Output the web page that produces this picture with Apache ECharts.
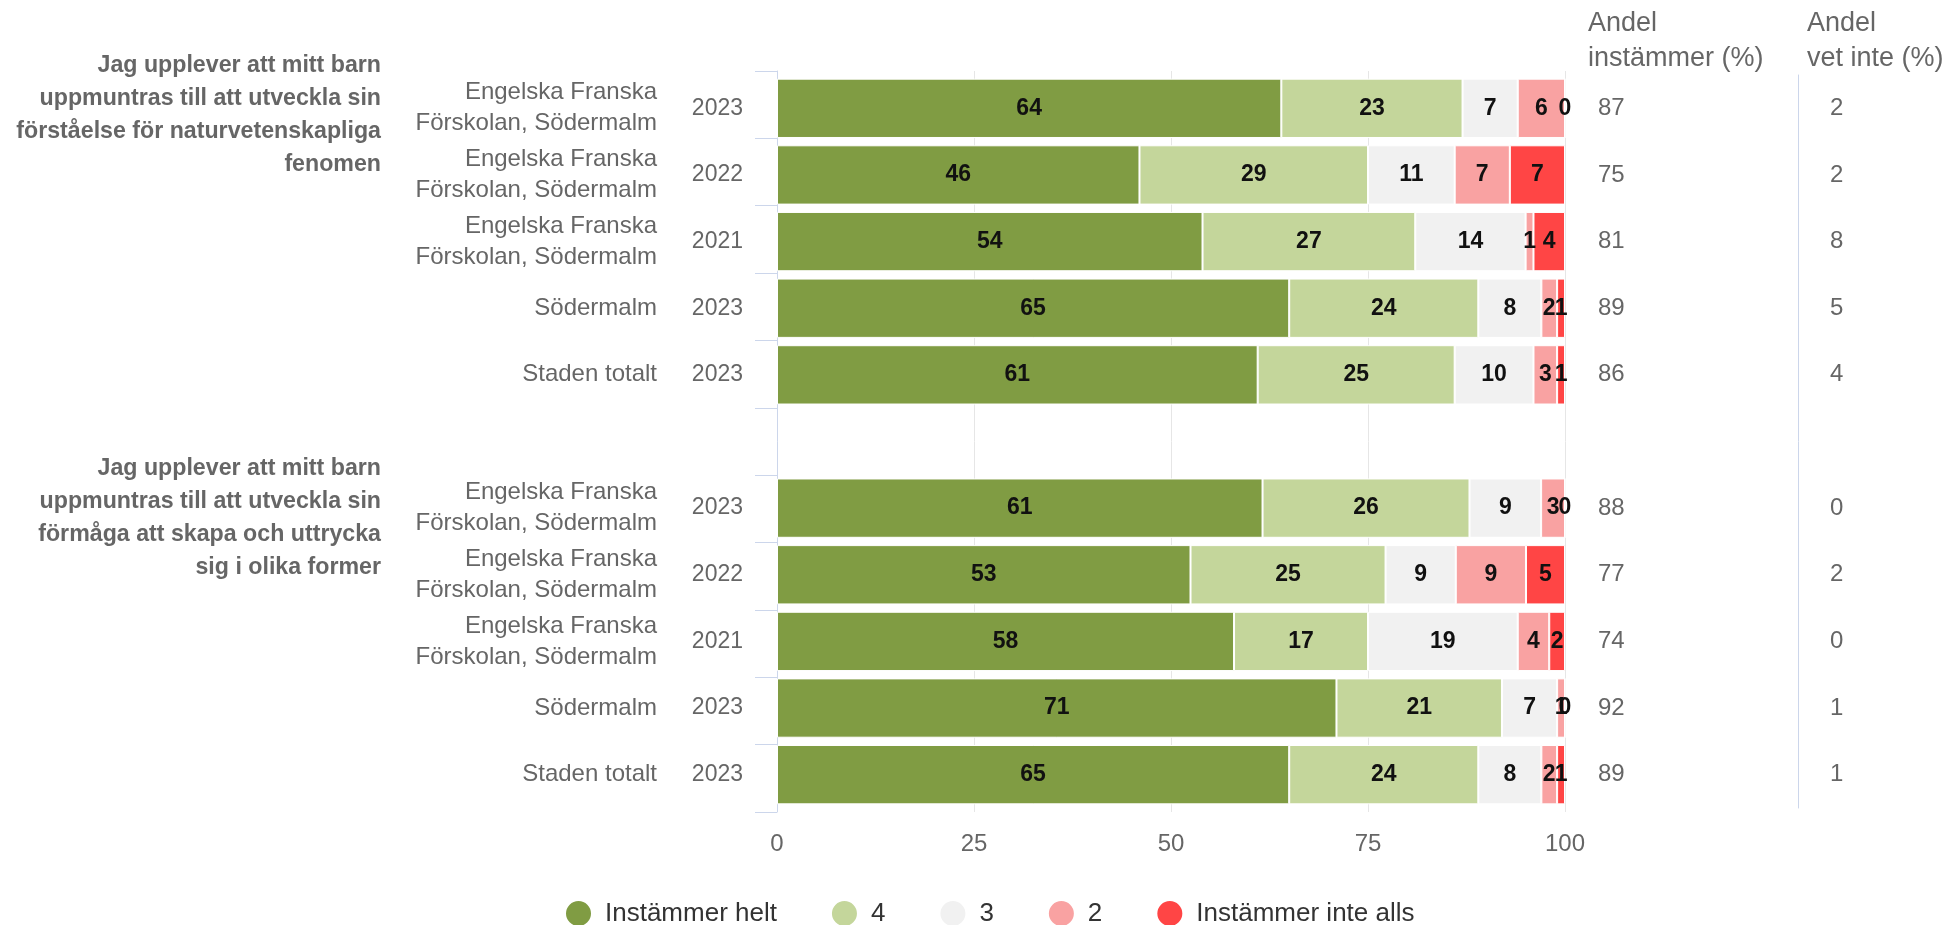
<!DOCTYPE html>
<html>
<head>
<meta charset="utf-8">
<script src="https://cdn.jsdelivr.net/npm/echarts@6/dist/echarts.min.js"></script>
<style>
  html, body { margin: 0; padding: 0; background: #fff; }
  #chart { width: 1959px; height: 925px; }
</style>
</head>
<body>
<div id="chart"></div>
<script>
// ---- Data ----
const rowIds = ['r0','r1','r2','r3','r4','gap','r5','r6','r7','r8','r9'];
const units = [
  'Engelska Franska\nFörskolan, Södermalm',
  'Engelska Franska\nFörskolan, Södermalm',
  'Engelska Franska\nFörskolan, Södermalm',
  'Södermalm',
  'Staden totalt',
  '',
  'Engelska Franska\nFörskolan, Södermalm',
  'Engelska Franska\nFörskolan, Södermalm',
  'Engelska Franska\nFörskolan, Södermalm',
  'Södermalm',
  'Staden totalt'
];
const years = ['2023','2022','2021','2023','2023','','2023','2022','2021','2023','2023'];
const seriesNames = ['Instämmer helt','4','3','2','Instämmer inte alls'];
const instammerHelt = [64, 46, 54, 65, 61, null, 61, 53, 58, 71, 65];
const val4          = [23, 29, 27, 24, 25, null, 26, 25, 17, 21, 24];
const val3          = [ 7, 11, 14,  8, 10, null,  9,  9, 19,  7,  8];
const val2          = [ 6,  7,  1,  2,  3, null,  3,  9,  4,  1,  2];
const instammerInte = [ 0,  7,  4,  1,  1, null,  0,  5,  2,  0,  1];
const andelInstammer = [87, 75, 81, 89, 86, null, 88, 77, 74, 92, 89];
const andelVetInte   = [ 2,  2,  8,  5,  4, null,  0,  2,  0,  1,  1];
const groupTitles = [
  'Jag upplever att mitt barn\nuppmuntras till att utveckla sin\nförståelse för naturvetenskapliga\nfenomen',
  'Jag upplever att mitt barn\nuppmuntras till att utveckla sin\nförmåga att skapa och uttrycka\nsig i olika former'
];
const xTicks = [0, 25, 50, 75, 100];
const headers = ['Andel\ninstämmer (%)', 'Andel\nvet inte (%)'];

// ---- Styles ----
const colors = ['#809c43', '#c4d69b', '#f1f1f1', '#f9a2a2', '#ff4545'];
const FONT = '"Liberation Sans", Arial, Helvetica, sans-serif';
const raw = [instammerHelt, val4, val3, val2, instammerInte];

// percent stacking (like the source chart): bar length = share of row total
const totals = rowIds.map((_, i) => {
  if (raw[0][i] == null) return null;
  return raw.reduce((s, arr) => s + arr[i], 0);
});

const series = raw.map((arr, k) => ({
  name: seriesNames[k],
  type: 'bar',
  stack: 'total',
  xAxisIndex: 0,
  yAxisIndex: 0,
  barCategoryGap: '11%',
  itemStyle: { color: colors[k], borderColor: '#ffffff', borderWidth: 1 },
  label: {
    show: true,
    position: 'inside',
    color: '#111',
    fontFamily: FONT,
    fontSize: 23,
    fontWeight: 'bold',
    formatter: p => (arr[p.dataIndex] == null ? '' : String(arr[p.dataIndex]))
  },
  emphasis: { disabled: true },
  data: arr.map((v, i) => (v == null ? '-' : v / totals[i] * 100))
}));

const chart = echarts.init(document.getElementById('chart'), null, { renderer: 'canvas' });

const baseCat = {
  type: 'category',
  data: rowIds,
  inverse: true,
  gridIndex: 0,
  axisLine: { show: false },
  axisTick: { show: false },
  splitLine: { show: false }
};

const LABEL_PAD = [8, 0, 0, 0];

const option = {
  animation: false,
  backgroundColor: '#ffffff',
  grid: [
    { left: 777, right: 394, top: 75, bottom: 117 },   // bars + labels
    { left: 777, right: 394, top: 71, bottom: 113 }    // axis line, ticks, gridlines
  ],
  xAxis: [
    { type: 'value', gridIndex: 0, min: 0, max: 100, interval: 25, show: false },
    {
      type: 'value',
      gridIndex: 1,
      min: 0,
      max: 100,
      interval: 25,
      axisLine: { show: false },
      axisTick: { show: false },
      splitLine: { show: true, lineStyle: { color: '#e6e6e6', width: 1 } },
      axisLabel: {
        color: '#666666',
        fontFamily: FONT,
        fontSize: 24,
        margin: 20,
        formatter: v => (xTicks.indexOf(v) >= 0 ? String(v) : '')
      }
    }
  ],
  yAxis: [
    Object.assign({}, baseCat, {
      position: 'left',
      axisLabel: {
        interval: 0,
        margin: 120,
        color: '#666666',
        fontFamily: FONT,
        fontSize: 24,
        lineHeight: 31,
        align: 'right',
        padding: LABEL_PAD,
        formatter: (v, i) => units[i]
      }
    }),
    Object.assign({}, baseCat, {
      position: 'left',
      axisLabel: {
        interval: 0,
        margin: 34,
        color: '#666666',
        fontFamily: FONT,
        fontSize: 23,
        padding: LABEL_PAD,
        formatter: (v, i) => years[i]
      }
    }),
    Object.assign({}, baseCat, {
      position: 'right',
      offset: 0,
      axisLabel: {
        interval: 0,
        margin: 33,
        align: 'left',
        color: '#666666',
        fontFamily: FONT,
        fontSize: 24,
        padding: LABEL_PAD,
        formatter: (v, i) => (andelInstammer[i] == null ? '' : String(andelInstammer[i]))
      }
    }),
    Object.assign({}, baseCat, {
      position: 'right',
      offset: 233,
      axisLine: { show: true, lineStyle: { color: '#ccd6eb', width: 1 } },
      axisLabel: {
        interval: 0,
        margin: 32,
        align: 'left',
        color: '#666666',
        fontFamily: FONT,
        fontSize: 24,
        padding: LABEL_PAD,
        formatter: (v, i) => (andelVetInte[i] == null ? '' : String(andelVetInte[i]))
      }
    }),
    Object.assign({}, baseCat, {
      gridIndex: 1,
      position: 'left',
      axisLine: { show: true, lineStyle: { color: '#ccd6eb', width: 1 } },
      axisTick: { show: true, length: 22, lineStyle: { color: '#ccd6eb', width: 1 } },
      axisLabel: { show: false }
    })
  ],
  legend: {
    data: seriesNames,
    left: 559,
    top: 894,
    icon: 'circle',
    itemWidth: 27,
    itemHeight: 27,
    itemGap: 53,
    selectedMode: false,
    textStyle: {
      color: '#333333',
      fontFamily: FONT,
      fontSize: 26,
      padding: [0, 0, 0, 8]
    }
  },
  graphic: [
    {
      type: 'text', x: 381, y: 49, silent: true,
      style: {
        text: groupTitles[0], fill: '#666666', fontFamily: FONT, fontSize: 23.2,
        fontWeight: 'bold', lineHeight: 33, align: 'right', verticalAlign: 'top'
      }
    },
    {
      type: 'text', x: 381, y: 452, silent: true,
      style: {
        text: groupTitles[1], fill: '#666666', fontFamily: FONT, fontSize: 23.2,
        fontWeight: 'bold', lineHeight: 33, align: 'right', verticalAlign: 'top'
      }
    },
    {
      type: 'text', x: 1588, y: 6, silent: true,
      style: {
        text: headers[0], fill: '#666666', fontFamily: FONT, fontSize: 27,
        lineHeight: 35, align: 'left', verticalAlign: 'top'
      }
    },
    {
      type: 'text', x: 1807, y: 6, silent: true,
      style: {
        text: headers[1], fill: '#666666', fontFamily: FONT, fontSize: 27,
        lineHeight: 35, align: 'left', verticalAlign: 'top'
      }
    }
  ],
  series: series
};

chart.setOption(option);
</script>
</body>
</html>
